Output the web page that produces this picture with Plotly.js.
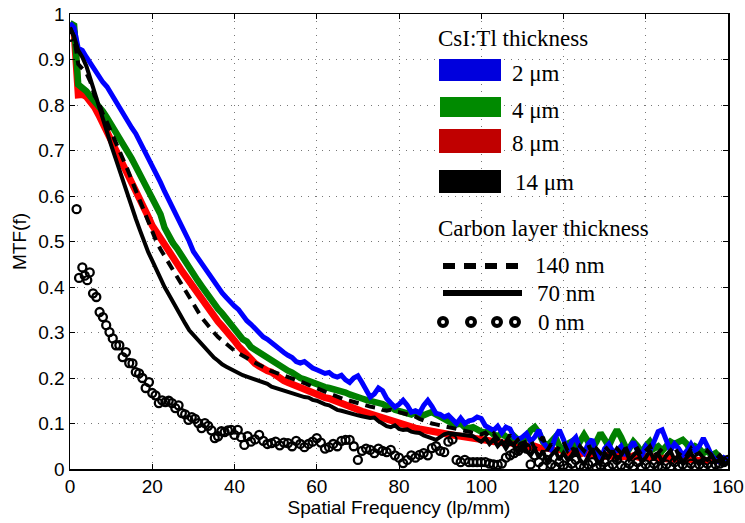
<!DOCTYPE html>
<html>
<head>
<meta charset="utf-8">
<script src="https://cdn.plot.ly/plotly-3.0.1.min.js"></script>
<style>html,body{margin:0;padding:0;background:#fff;}#chart{width:745px;height:523px;}</style>
</head>
<body>
<div id="chart"></div>
<script>
// Spatial frequency (lp/mm), shared by the line series
const freq = Array.from({length: 161}, (_, i) => i);

// CsI:Tl 2 um (blue)
const mtf2um = [0.98,0.97,0.925,0.92,0.905,0.89,0.875,0.863,0.85,0.84,
0.825,0.808,0.79,0.776,0.765,0.75,0.737,0.72,0.70,0.685,
0.667,0.648,0.63,0.61,0.592,0.574,0.555,0.54,0.522,0.5,
0.478,0.465,0.45,0.438,0.425,0.41,0.397,0.387,0.377,0.366,
0.358,0.35,0.336,0.326,0.318,0.308,0.298,0.29,0.285,0.277,
0.272,0.263,0.256,0.25,0.245,0.236,0.233,0.236,0.228,0.222,
0.218,0.214,0.21,0.212,0.205,0.202,0.206,0.196,0.19,0.2,
0.205,0.19,0.172,0.158,0.165,0.178,0.172,0.155,0.145,0.136,
0.142,0.151,0.14,0.125,0.128,0.123,0.14,0.151,0.138,0.122,
0.12,0.114,0.118,0.108,0.1,0.112,0.1,0.106,0.108,0.114,
0.111,0.095,0.09,0.085,0.094,0.08,0.092,0.088,0.07,0.065,
0.07,0.078,0.06,0.07,0.086,0.06,0.048,0.042,0.07,0.086,
0.065,0.04,0.06,0.07,0.045,0.035,0.055,0.065,0.035,0.02,
0.045,0.055,0.038,0.04,0.05,0.03,0.045,0.06,0.04,0.03,
0.05,0.04,0.06,0.082,0.086,0.06,0.04,0.055,0.045,0.03,
0.04,0.055,0.04,0.05,0.068,0.05,0.03,0.02,0.015,0.025,0.02];

// CsI:Tl 4 um (green)
const mtf4um = [0.98,0.975,0.845,0.838,0.83,0.818,0.808,0.798,0.786,0.772,
0.758,0.743,0.73,0.715,0.698,0.682,0.665,0.648,0.632,0.618,
0.598,0.582,0.56,0.53,0.512,0.497,0.485,0.47,0.456,0.44,
0.428,0.415,0.402,0.388,0.375,0.365,0.352,0.342,0.33,0.318,
0.305,0.295,0.285,0.28,0.268,0.262,0.256,0.248,0.243,0.238,
0.232,0.226,0.222,0.216,0.212,0.205,0.2,0.197,0.193,0.19,
0.186,0.183,0.18,0.178,0.176,0.173,0.17,0.168,0.164,0.16,
0.157,0.155,0.152,0.15,0.148,0.145,0.143,0.138,0.136,0.13,
0.127,0.123,0.122,0.12,0.125,0.12,0.118,0.122,0.125,0.12,
0.115,0.108,0.104,0.1,0.098,0.1,0.092,0.09,0.092,0.085,
0.082,0.08,0.084,0.076,0.072,0.078,0.07,0.065,0.072,0.062,
0.055,0.07,0.085,0.092,0.08,0.06,0.05,0.06,0.07,0.05,
0.04,0.055,0.06,0.045,0.06,0.075,0.06,0.045,0.06,0.079,
0.065,0.05,0.07,0.086,0.07,0.05,0.045,0.06,0.05,0.035,
0.05,0.06,0.045,0.05,0.04,0.05,0.06,0.055,0.06,0.064,
0.055,0.04,0.05,0.045,0.035,0.04,0.03,0.035,0.025,0.02,0.02];

// CsI:Tl 8 um (red)
const mtf8um = [0.98,0.96,0.822,0.823,0.818,0.808,0.795,0.778,0.76,0.742,
0.722,0.705,0.688,0.67,0.652,0.63,0.612,0.595,0.575,0.555,
0.535,0.52,0.505,0.493,0.478,0.465,0.452,0.438,0.425,0.412,
0.398,0.386,0.372,0.36,0.348,0.335,0.324,0.314,0.305,0.293,
0.282,0.27,0.26,0.251,0.24,0.232,0.226,0.22,0.216,0.213,
0.205,0.198,0.194,0.19,0.186,0.182,0.178,0.176,0.172,0.168,
0.164,0.16,0.157,0.155,0.151,0.147,0.144,0.14,0.137,0.134,
0.13,0.127,0.124,0.121,0.119,0.115,0.112,0.108,0.106,0.103,
0.1,0.098,0.096,0.093,0.09,0.088,0.086,0.084,0.082,0.08,
0.079,0.077,0.076,0.074,0.073,0.072,0.071,0.07,0.069,0.067,
0.066,0.064,0.062,0.06,0.061,0.058,0.056,0.058,0.054,0.052,
0.055,0.05,0.048,0.05,0.046,0.044,0.047,0.042,0.04,0.043,
0.038,0.036,0.039,0.035,0.033,0.036,0.032,0.03,0.033,0.03,
0.028,0.031,0.027,0.03,0.026,0.028,0.025,0.029,0.026,0.024,
0.027,0.024,0.026,0.023,0.025,0.022,0.024,0.021,0.023,0.02,
0.022,0.02,0.021,0.019,0.02,0.018,0.02,0.017,0.018,0.016,0.017];

// CsI:Tl 14 um, 140 nm carbon (black dashed)
const mtf14um140nm = [0.97,0.95,0.89,0.88,0.87,0.85,0.82,0.805,0.78,0.762,
0.742,0.722,0.702,0.68,0.658,0.635,0.612,0.59,0.565,0.54,
0.52,0.5,0.483,0.468,0.452,0.437,0.422,0.405,0.39,0.375,
0.36,0.347,0.333,0.322,0.31,0.3,0.29,0.282,0.275,0.266,
0.26,0.254,0.25,0.244,0.238,0.233,0.228,0.223,0.219,0.215,
0.212,0.209,0.205,0.202,0.198,0.195,0.192,0.189,0.185,0.182,
0.178,0.174,0.17,0.166,0.162,0.158,0.155,0.152,0.15,0.148,
0.145,0.142,0.14,0.137,0.136,0.134,0.13,0.128,0.13,0.126,
0.125,0.123,0.12,0.118,0.115,0.11,0.106,0.103,0.1,0.098,
0.096,0.094,0.09,0.088,0.086,0.085,0.083,0.082,0.08,0.078,
0.076,0.08,0.07,0.078,0.065,0.07,0.06,0.075,0.055,0.065,
0.07,0.05,0.065,0.045,0.06,0.07,0.04,0.055,0.035,0.05,
0.06,0.04,0.05,0.03,0.05,0.04,0.055,0.03,0.045,0.035,
0.05,0.04,0.03,0.045,0.035,0.05,0.03,0.04,0.045,0.03,
0.04,0.05,0.03,0.035,0.045,0.03,0.04,0.05,0.03,0.04,
0.03,0.045,0.03,0.035,0.025,0.04,0.03,0.02,0.03,0.02,0.025];

// CsI:Tl 14 um, 70 nm carbon (black solid)
const mtf14um70nm = [0.97,0.95,0.92,0.905,0.885,0.855,0.825,0.795,0.767,0.74,
0.712,0.685,0.657,0.632,0.606,0.578,0.55,0.525,0.498,0.477,
0.458,0.437,0.418,0.4,0.384,0.368,0.348,0.332,0.32,0.305,
0.295,0.283,0.273,0.262,0.255,0.245,0.238,0.23,0.225,0.22,
0.215,0.212,0.206,0.203,0.2,0.196,0.192,0.19,0.187,0.181,
0.178,0.175,0.173,0.17,0.166,0.165,0.162,0.158,0.157,0.152,
0.15,0.145,0.142,0.14,0.135,0.13,0.128,0.125,0.122,0.12,
0.118,0.116,0.114,0.112,0.113,0.105,0.1,0.094,0.092,0.096,
0.088,0.086,0.087,0.082,0.08,0.079,0.074,0.07,0.068,0.064,
0.07,0.076,0.079,0.078,0.076,0.075,0.074,0.075,0.072,0.065,
0.06,0.068,0.055,0.065,0.05,0.06,0.045,0.06,0.05,0.035,
0.055,0.04,0.03,0.045,0.025,0.04,0.015,0.03,0.04,0.02,
0.035,0.02,0.03,0.045,0.02,0.01,0.03,0.045,0.02,0.01,
0.035,0.025,0.04,0.02,0.03,0.045,0.02,0.03,0.04,0.015,
0.025,0.04,0.02,0.035,0.015,0.03,0.04,0.02,0.03,0.015,
0.025,0.035,0.02,0.01,0.025,0.02,0.03,0.015,0.02,0.01,0.015];

// CsI:Tl 14 um, 0 nm carbon (open circles)
const freq0nm = [0,1.6,2.2,3,3.6,4.2,4.8,5.6,6.4,7.2,8,8.8,9.6,10.4,11.2,12,12.8,13.6,14.4,15.2,
16,16.8,17.6,18.4,19.2,20,20.8,21.6,22.4,23.2,24,24.8,25.6,26.4,27.2,28,28.8,29.6,30.4,31.2,
32,32.8,33.6,34.4,35.2,36,36.8,37.6,38.4,39.2,40,40.8,41.6,42.4,43.2,
44,45,46,47,48,49,50,51,52,53,54,55,56,57,58,59,60,61,62,63,64,65,66,67,68,69,
70,71,72,73,74,75,76,77,78,79,80,81,82,83,84,85,86,87,88,89,90,91,92,93,94,95,96,97,98,99,
100,101,102,103,104,105,106,107,108,109,110,111,112,113,114,115,116,117,118,119,
120,121,122,123,124,125,126,127,128,129,130,131,132,133,134,135,136,137,138,139,
140,141,142,143,144,145,146,147,148,149,150,151,152,153,154,155,156,157,158,159,160];
const mtf14um0nm = [0.95,0.571,0.42,0.443,0.425,0.415,0.432,0.386,0.378,0.345,0.334,0.316,0.301,0.287,0.272,0.272,0.246,0.257,0.233,0.232,
0.213,0.21,0.2,0.178,0.191,0.167,0.162,0.145,0.151,0.147,0.15,0.145,0.134,0.14,0.123,0.12,0.108,0.114,0.11,0.101,
0.09,0.101,0.095,0.085,0.068,0.072,0.083,0.081,0.085,0.086,0.075,0.086,0.07,0.053,0.072,
0.06,0.065,0.075,0.062,0.055,0.057,0.06,0.052,0.058,0.057,0.05,0.062,0.055,0.048,0.055,0.06,0.068,0.058,0.045,0.048,0.055,0.05,0.062,0.064,0.064,0.05,
0.02,0.04,0.045,0.042,0.035,0.045,0.04,0.037,0.042,0.03,0.025,0.013,0.02,0.03,0.025,0.031,0.035,0.03,0.046,0.05,0.04,0.037,0.06,0.065,0.02,0.015,0.02,0.015,0.015,0.015,
0.015,0.015,0.012,0.01,0.009,0.012,0.025,0.03,0.035,0.04,0.05,0.045,0.01,0.03,0.015,0.005,0.02,0.01,0.005,0.015,
0.008,0.003,0.012,0.02,0.008,0.004,0.01,0.015,0.003,0.008,0.015,0.005,0.01,0.02,0.008,0.003,0.012,0.006,0.015,0.004,
0.01,0.005,0.012,0.006,0.003,0.01,0.005,0.015,0.006,0.01,0.004,0.012,0.006,0.01,0.004,0.012,0.006,0.01,0.012,0.015,0.02];

const xTicks = [0,20,40,60,80,100,120,140,160];
const yTicks = [0,0.1,0.2,0.3,0.4,0.5,0.6,0.7,0.8,0.9,1];
const yTickText = ['0','0.1','0.2','0.3','0.4','0.5','0.6','0.7','0.8','0.9','1'];

const legendTitle1 = 'CsI:Tl thickness';
const legendCsI = ['2 μm','4 μm','8 μm','14 μm'];
const legendTitle2 = 'Carbon layer thickness';
const legendCarbon = ['140 nm','70 nm','0 nm'];

const traces = [
  {x: freq, y: mtf8um, mode: 'lines', line: {color: '#ff0000', width: 7}},
  {x: freq, y: mtf4um, mode: 'lines', line: {color: '#008000', width: 6.5}},
  {x: freq, y: mtf2um, mode: 'lines', line: {color: '#0000ff', width: 5}},
  {x: freq, y: mtf14um140nm, mode: 'lines', line: {color: '#000000', width: 4, dash: '10px,7px'}},
  {x: freq, y: mtf14um70nm, mode: 'lines', line: {color: '#000000', width: 4}},
  {x: freq0nm, y: mtf14um0nm, mode: 'markers', marker: {symbol: 'circle-open', size: 8, color: '#000000', line: {width: 2.3, color: '#000000'}}}
];

// plot area in pixels (for placing the hand-made legend)
const PL = 70, PR = 728, PT = 14, PB = 469;
const px = v => (v - PL) / (PR - PL);
const py = v => (PB - v) / (PB - PT);

const serif = {family: 'Liberation Serif, Times New Roman, serif', size: 23, color: '#000'};
const shapes = [
  {type: 'rect', xref: 'paper', yref: 'paper', x0: px(372), x1: 1, y0: py(350), y1: 1,
   fillcolor: '#ffffff', line: {width: 0}, layer: 'between'},
  {type: 'rect', xref: 'paper', yref: 'paper', x0: px(439), x1: px(501), y0: py(81), y1: py(59), fillcolor: '#0000dd', line: {width: 0}},
  {type: 'rect', xref: 'paper', yref: 'paper', x0: px(440), x1: px(501), y0: py(117), y1: py(97), fillcolor: '#008a00', line: {width: 0}},
  {type: 'rect', xref: 'paper', yref: 'paper', x0: px(439), x1: px(501), y0: py(153), y1: py(129), fillcolor: '#c00000', line: {width: 0}},
  {type: 'rect', xref: 'paper', yref: 'paper', x0: px(439), x1: px(501), y0: py(193), y1: py(170), fillcolor: '#000000', line: {width: 0}},
  {type: 'line', xref: 'paper', yref: 'paper', x0: px(443), x1: px(522), y0: py(266), y1: py(266), line: {color: '#000', width: 6, dash: '12px,9px'}},
  {type: 'line', xref: 'paper', yref: 'paper', x0: px(443), x1: px(522), y0: py(293), y1: py(293), line: {color: '#000', width: 6}}
];
[443, 471, 497, 515].forEach(cx => {
  shapes.push({type: 'circle', xref: 'paper', yref: 'paper', x0: px(cx - 4), x1: px(cx + 4), y0: py(322 + 4), y1: py(322 - 4),
    fillcolor: '#ffffff', line: {color: '#000', width: 4}});
});

const ann = (t, x, y) => ({text: t, xref: 'paper', yref: 'paper', x: px(x), y: py(y), xanchor: 'left', yanchor: 'middle', showarrow: false, font: serif});
const annotations = [
  ann(legendTitle1, 436, 38),
  ann(legendCsI[0], 510, 73),
  ann(legendCsI[1], 510, 110),
  ann(legendCsI[2], 510, 143),
  ann(legendCsI[3], 513, 182),
  ann(legendTitle2, 436, 228),
  ann(legendCarbon[0], 533, 265),
  ann(legendCarbon[1], 535, 293),
  ann(legendCarbon[2], 536, 322)
];

const sans = 'Liberation Sans, Arial, Helvetica, sans-serif';
const axisCommon = {
  showline: true, linecolor: '#000', linewidth: 1.5, mirror: 'ticks',
  ticks: 'inside', ticklen: 5, tickwidth: 1, tickcolor: '#000',
  showgrid: true, gridcolor: '#777', gridwidth: 1, griddash: '1px,6px',
  zeroline: false, tickfont: {family: sans, size: 19, color: '#000'}
};

const layout = {
  width: 745, height: 523,
  margin: {l: PL, r: 745 - PR, t: PT, b: 523 - PB, pad: 0},
  paper_bgcolor: '#fff', plot_bgcolor: '#fff',
  showlegend: false,
  xaxis: Object.assign({}, axisCommon, {range: [0, 160], tickvals: xTicks,
    title: {text: 'Spatial Frequency (lp/mm)', font: {family: sans, size: 19, color: '#000'}, standoff: 4}}),
  yaxis: Object.assign({}, axisCommon, {range: [0, 1], tickvals: yTicks, ticktext: yTickText,
    title: {text: 'MTF(f)', font: {family: sans, size: 19, color: '#000'}, standoff: 6}}),
  shapes: shapes,
  annotations: annotations
};

Plotly.newPlot('chart', traces, layout, {displayModeBar: false, staticPlot: true});
</script>
</body>
</html>
